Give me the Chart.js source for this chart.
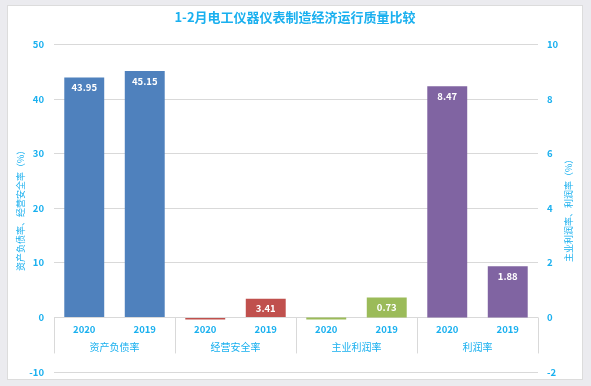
<!DOCTYPE html>
<html>
<head>
<meta charset="utf-8">
<script src="https://cdn.jsdelivr.net/npm/chart.js@4.4.0/dist/chart.umd.min.js"></script>
<style>
  body { margin: 0; background: #ebebef; }
  .frame {
    position: absolute; left: 7px; top: 5px; width: 574px; height: 373px;
    background: #fff; border: 1px solid #dcdcdc;
  }
  canvas { display: block; }
</style>
</head>
<body>
<div class="frame"><canvas id="myChart" width="574" height="373"></canvas></div>
<script>
const years = ['2020', '2019', '2020', '2019', '2020', '2019', '2020', '2019'];
const groups = ['资产负债率', '经营安全率', '主业利润率', '利润率'];
// left axis: 资产负债率, 经营安全率
const leftData = [43.95, 45.15, -0.4, 3.41, null, null, null, null];
// right axis: 主业利润率, 利润率
const rightData = [null, null, null, null, -0.08, 0.73, 8.47, 1.88];
const barColors = ['#4f81bd', '#4f81bd', '#c0504d', '#c0504d', '#9bbb59', '#9bbb59', '#8064a2', '#8064a2'];

const blue = '#1ab0ef';
const font = '"Noto Sans CJK SC", "Noto Sans", sans-serif';

const extras = {
  id: 'extras',
  afterDatasetsDraw(chart) {
    const ctx = chart.ctx;
    const x = chart.scales.x;
    const y = chart.scales.y;
    const area = chart.chartArea;
    const zero = y.getPixelForValue(0);
    ctx.save();
    // value labels
    ctx.fillStyle = '#fff';
    ctx.font = 'bold 9.5px ' + font;
    ctx.textAlign = 'center';
    ctx.textBaseline = 'middle';
    chart.data.datasets.forEach((ds, di) => {
      chart.getDatasetMeta(di).data.forEach((bar, i) => {
        const v = ds.data[i];
        if (v === null || v <= 0) return;
        ctx.fillText(v.toFixed(2), bar.x, bar.y + 10);
      });
    });
    // category labels
    ctx.fillStyle = blue;
    years.forEach((yr, i) => {
      ctx.fillText(yr, x.getPixelForValue(i), zero + 12);
    });
    ctx.font = '10px ' + font;
    groups.forEach((g, k) => {
      const cx = (x.getPixelForValue(2 * k) + x.getPixelForValue(2 * k + 1)) / 2;
      ctx.fillText(g, cx, zero + 30);
    });
    // group dividers
    ctx.strokeStyle = '#d9d9d9';
    ctx.lineWidth = 1;
    for (let k = 0; k <= groups.length; k++) {
      let px;
      if (k === 0) px = area.left;
      else if (k === groups.length) px = area.right;
      else px = (x.getPixelForValue(2 * k - 1) + x.getPixelForValue(2 * k)) / 2;
      px = Math.round(px) + 0.5;
      ctx.beginPath();
      ctx.moveTo(px, zero);
      ctx.lineTo(px, zero + 36);
      ctx.stroke();
    }
    // axis titles
    ctx.font = '9px ' + font;
    const cy = (area.top + area.bottom) / 2;
    ctx.translate(13, cy);
    ctx.rotate(-Math.PI / 2);
    ctx.fillText('资产负债率、经营安全率（%）', 0, 0);
    ctx.rotate(Math.PI / 2);
    ctx.translate(-13, -cy);
    ctx.translate(561, cy);
    ctx.rotate(-Math.PI / 2);
    ctx.fillText('主业利润率、利润率（%）', 0, 0);
    ctx.restore();
  },
};

const ctx = document.getElementById('myChart').getContext('2d');
window.myChart = new Chart(ctx, {
  type: 'bar',
  data: {
    labels: years,
    datasets: [
      { label: 'left', data: leftData, backgroundColor: barColors, yAxisID: 'y' },
      { label: 'right', data: rightData, backgroundColor: barColors, yAxisID: 'y1' },
    ],
  },
  options: {
    responsive: false,
    animation: false,
    layout: { padding: { left: 0, right: 0, top: 0, bottom: 7 } },
    datasets: { bar: { grouped: false, barPercentage: 0.66, categoryPercentage: 1 } },
    plugins: {
      legend: { display: false },
      tooltip: { enabled: false },
      title: {
        display: true,
        text: '1-2月电工仪器仪表制造经济运行质量比较',
        color: blue,
        font: { family: font, size: 13, weight: 'bold' },
        padding: { top: 3, bottom: 20 },
      },
    },
    scales: {
      x: { display: false },
      y: {
        position: 'left',
        min: -10,
        max: 50,
        ticks: { stepSize: 10, color: blue, padding: 10, font: { family: font, size: 9.5, weight: 'bold' } },
        grid: { color: '#d9d9d9', drawTicks: false },
        border: { display: false },
        afterFit: (s) => { s.width = 46; s.paddingTop = 0; s.paddingBottom = 0; },
      },
      y1: {
        position: 'right',
        min: -2,
        max: 10,
        ticks: { stepSize: 2, color: blue, padding: 9, font: { family: font, size: 9.5, weight: 'bold' } },
        grid: { display: false, drawTicks: false },
        border: { display: false },
        afterFit: (s) => { s.width = 44; s.paddingTop = 0; s.paddingBottom = 0; },
      },
    },
  },
  plugins: [extras],
});
</script>
</body>
</html>
